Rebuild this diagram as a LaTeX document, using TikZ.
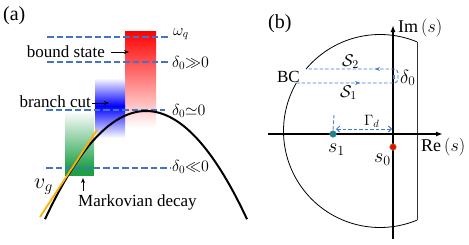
\RequirePackage{fix-cm}
\documentclass[tikz,border=0pt]{standalone}
\usepackage{fontspec}
\setmainfont{Liberation Serif}
\usetikzlibrary{arrows.meta,decorations.markings}
\definecolor{dblue}{RGB}{68,114,196}
\definecolor{lblue}{RGB}{70,120,215}
\definecolor{gold}{RGB}{255,176,0}
\definecolor{mygreen}{RGB}{30,160,70}
\definecolor{tealdot}{RGB}{20,140,110}
\definecolor{dotedge}{RGB}{120,140,40}
\begin{document}
\begin{tikzpicture}[x=1pt,y=-1pt,
  lev/.style={dblue, line width=1.5pt, dash pattern=on 6.5pt off 3pt},
  bdash/.style={lblue, line width=0.9pt, dash pattern=on 3.5pt off 2pt},
  txt/.style={font=\fontsize{17}{20}\selectfont, inner sep=0pt},
  mlab/.style={font=\fontsize{16}{19}\selectfont, inner sep=0pt},
  blab/.style={font=\fontsize{17}{20}\selectfont, inner sep=0pt},
  axlab/.style={font=\fontsize{18}{21}\selectfont, inner sep=0pt},
  slab/.style={font=\fontsize{20}{23}\selectfont, inner sep=0pt},
  lblarrow/.style={-{Stealth[length=5pt,width=4pt]}, line width=1pt},
  axarrow/.style={line width=1.5pt, -{Latex[length=7pt,width=5pt]}},
  contour/.style={line width=0.8pt},
  dotnode/.style={circle, inner sep=0pt, minimum size=6.5pt, line width=0.6pt},
]
\useasboundingbox (0,0) rectangle (469,244);

% ---------- panel (a) ----------
\shade[top color=red, bottom color=white] (125,31) rectangle (156,128);
\shade[top color=white, bottom color=blue] (95,78) rectangle (125,106);
\shade[top color=blue, bottom color=white] (95,106) rectangle (125,138);
\shade[top color=mygreen!4!white, bottom color=mygreen] (65,113) rectangle (94,168);
\fill[mygreen] (65,168) rectangle (94,176);

\node[mlab, anchor=base west] (wq) at (173,35) {$\omega_q$};
\node[mlab, anchor=base west] (d1) at (172,67) {$\delta_0{\gg}0$};
\node[mlab, anchor=base west] (d2) at (172,115) {$\delta_0{\simeq}0$};
\node[mlab, anchor=base west] (d3) at (172,171) {$\delta_0{\ll}0$};

\draw[lev] (47,37) -- (170,37);
\draw[lev] (47,62) -- (168,62);
\draw[lev] (46,110) -- (165,110);
\draw[lev] (46,168) -- (170,168);

\draw[line width=2pt] plot[domain=45:247, samples=90] (\x, {111+0.0106*(\x-146)^2});
\draw[gold, line width=1.8pt] (40,217) -- (97,130);

\node[txt, anchor=east] (bs) at (105,52) {bound state};
\draw[lblarrow] ([xshift=6pt]bs.east) -- ++(18,0);
\node[txt, anchor=east] (bc) at (91,102) {branch cut};
\draw[lblarrow] ([xshift=1pt,yshift=-1pt]bc.east) -- ++(17,0);
\node[txt, anchor=base west] (mk) at (78,206) {Markovian decay};
\draw[lblarrow] ([shift={(5,-3)}]mk.north west) -- ++(0,-13);
\node[font=\fontsize{22}{24}\selectfont, inner sep=0pt, anchor=base west] (vg) at (34,188) {$v_g$};

\node[font=\fontsize{20}{22}\selectfont, inner sep=0pt, anchor=base west] (pa) at (3,20) {(a)};

% ---------- panel (b) ----------
\node[font=\fontsize{20}{22}\selectfont, inner sep=0pt, anchor=base west] (pb) at (268,28) {(b)};

\draw[contour] plot[domain=67.5:140, samples=50] ({380+96.5*cos(\x)},{131-96.5*sin(\x)});
\draw[contour] plot[domain=150.2:292.5, samples=90] ({380+96.5*cos(\x)},{131-96.5*sin(\x)});
\draw[line width=0.7pt, black!80] (417,41.8) -- (417,220.2);

\draw[axarrow] (393,239) -- (393,25);
\draw[axarrow] (268,134) -- (443,134);

\draw[bdash, rounded corners=4pt,
  postaction={decorate},
  decoration={markings,
    mark=at position 0.313 with {\arrow{Stealth[length=5pt,width=4pt]}},
    mark=at position 0.663 with {\arrow{Stealth[length=5pt,width=4pt]}}}]
  (296,83) -- (398,83) -- (398,69) -- (306,69);
\draw[lblue, line width=2.2pt] (394,75) -- (394,79);

\node[dotnode, fill=tealdot, draw=lblue] (s1) at (333,134) {};
\node[dotnode, fill=red, draw=dotedge] (s0) at (393,147) {};

\draw[bdash] (334,115) -- (s1.north);
\draw[bdash, {Straight Barb[length=3pt,width=6pt]}-{Straight Barb[length=3pt,width=6pt]}] (336,129) -- (392,129);

\node[axlab, anchor=base west] (im) at (398,32) {$\mathrm{Im}\,(s)$};
\node[axlab, anchor=base west] (re) at (421,151) {$\mathrm{Re}\,(s)$};
\node[blab, anchor=base east] (bclab) at (300,82) {BC};
\node[blab, anchor=base west] (S2) at (342,66) {$\mathcal{S}_2$};
\node[blab, anchor=base west] (S1) at (340,97) {$\mathcal{S}_1$};
\node[font=\fontsize{19}{22}\selectfont, inner sep=0pt, anchor=base west] (dz) at (400,83) {$\delta_0$};
\node[font=\fontsize{15}{18}\selectfont, inner sep=0pt, anchor=base west] (gd) at (364,125) {$\Gamma_d$};
\node[slab, anchor=base west] (s1l) at (328,152) {$s_1$};
\node[slab, anchor=base west] (s0l) at (374,162) {$s_0$};
\end{tikzpicture}
\end{document}
